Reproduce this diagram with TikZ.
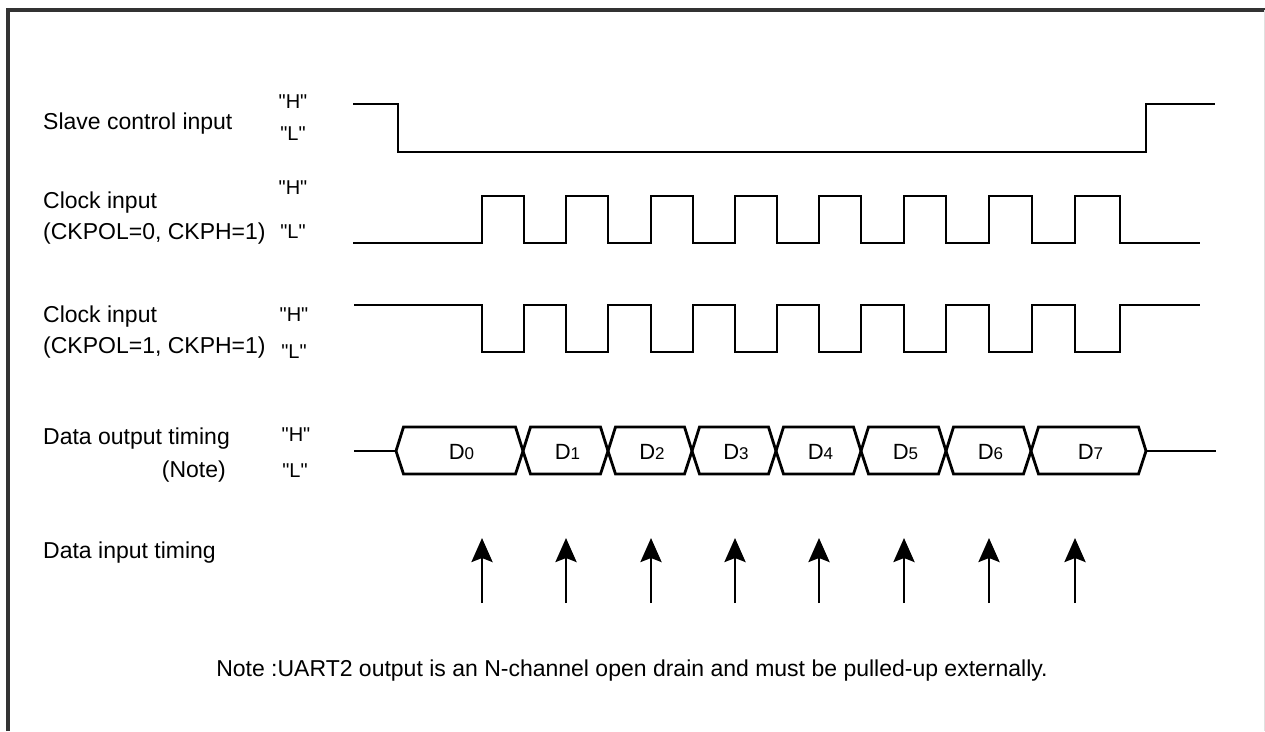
\documentclass[tikz,border=0pt]{standalone}
\usepackage{fontspec}
\setmainfont{Liberation Sans}
\usetikzlibrary{positioning,arrows.meta}
\definecolor{FrameGray}{RGB}{51,51,51}
\newcommand{\qmark}{\XeTeXglyph\XeTeXcharglyph"22\relax}
\newcommand{\lvl}[1]{\qmark#1\qmark}

\begin{document}
\begin{tikzpicture}[
    x=1pt, y=-1pt,
    signal/.style={line width=2.8pt, line join=miter, color=black},
    sigtext/.style={font=\fontsize{23}{27}\selectfont, anchor=west, inner sep=0pt},
    leveltext/.style={font=\fontsize{20}{24}\selectfont, inner sep=0pt},
    bittext/.style={font=\fontsize{22}{26}\selectfont, inner sep=0pt},
    samplearrow/.style={-{Stealth[length=24pt, width=21pt, inset=4pt]}, line width=2.8pt}
]
\useasboundingbox (0,0) rectangle (1265,731);
% frame
\draw[FrameGray, line width=3.5pt] (8,731) -- (8,10) -- (1265,10);
\draw[black!12, line width=1pt] (1264,10) -- (1264,731);

% signal names
\node[sigtext] (slave) at (43,124) {Slave control input};
\node[sigtext] (clkA) at (43,203) {Clock input};
\node[sigtext] (clkAmode) at (43,234) {(CKPOL=0, CKPH=1)};
\node[sigtext] (clkB) at (43,317) {Clock input};
\node[sigtext] (clkBmode) at (43,348) {(CKPOL=1, CKPH=1)};
\node[sigtext] (dout) at (43,439) {Data output timing};
\node[sigtext, anchor=east] (doutnote) at (226,472) {(Note)};
\node[sigtext] (din) at (43,553) {Data input timing};

% levels
\node[leveltext] (slaveH) at (293,102) {\lvl{H}};
\node[leveltext] (slaveL) at (293,134) {\lvl{L}};
\node[leveltext] (clkAH) at (293,188) {\lvl{H}};
\node[leveltext] (clkAL) at (293,232) {\lvl{L}};
\node[leveltext] (clkBH) at (294,315) {\lvl{H}};
\node[leveltext] (clkBL) at (294,352) {\lvl{L}};
\node[leveltext] (doutH) at (296,435) {\lvl{H}};
\node[leveltext] (doutL) at (295,471) {\lvl{L}};

% slave control
\draw[signal] (353,104) -- (398,104) -- (398,152) -- (1146,152) -- (1146,104) -- (1215,104);

% clocks
\draw[signal] (353,243)
  \foreach \r/\f in {482/524,566/608,651/693,735/777,819/861,904/946,989/1032,1075/1120}
    { -- (\r,243) -- (\r,196) -- (\f,196) -- (\f,243) } -- (1200,243);
\draw[signal] (354,305)
  \foreach \r/\f in {482/524,566/608,651/693,735/777,819/861,904/946,989/1032,1075/1120}
    { -- (\r,305) -- (\r,352) -- (\f,352) -- (\f,305) } -- (1200,305);

% data output
\draw[signal] (354,451) -- (396,451);
\draw[signal] (1146,451) -- (1216,451);
\foreach \i/\a/\b in {0/396/523,1/523/608,2/608/692,3/692/776,4/776/861,5/861/946,6/946/1031,7/1031/1146} {
  \draw[signal] (\a,451) -- ({\a+7.5},427) -- ({\b-7.5},427) -- (\b,451)
                -- ({\b-7.5},474) -- ({\a+7.5},474) -- cycle;
  \node[bittext] (bit\i) at ({(\a+\b)/2+2},452) {D{\fontsize{17}{20}\selectfont\i}};
}

% data input sampling
\foreach \x [count=\i] in {482,566,651,735,819,904,989,1075} {
  \coordinate (tail\i) at (\x,603);
  \coordinate (tip\i) at (\x,538);
  \draw[samplearrow] (tail\i) -- (tip\i);
}

\node[font=\fontsize{23}{27}\selectfont, inner sep=0pt] (note) at (632,671)
  {Note :UART2 output is an N-channel open drain and must be pulled-up externally.};
\end{tikzpicture}
\end{document}
